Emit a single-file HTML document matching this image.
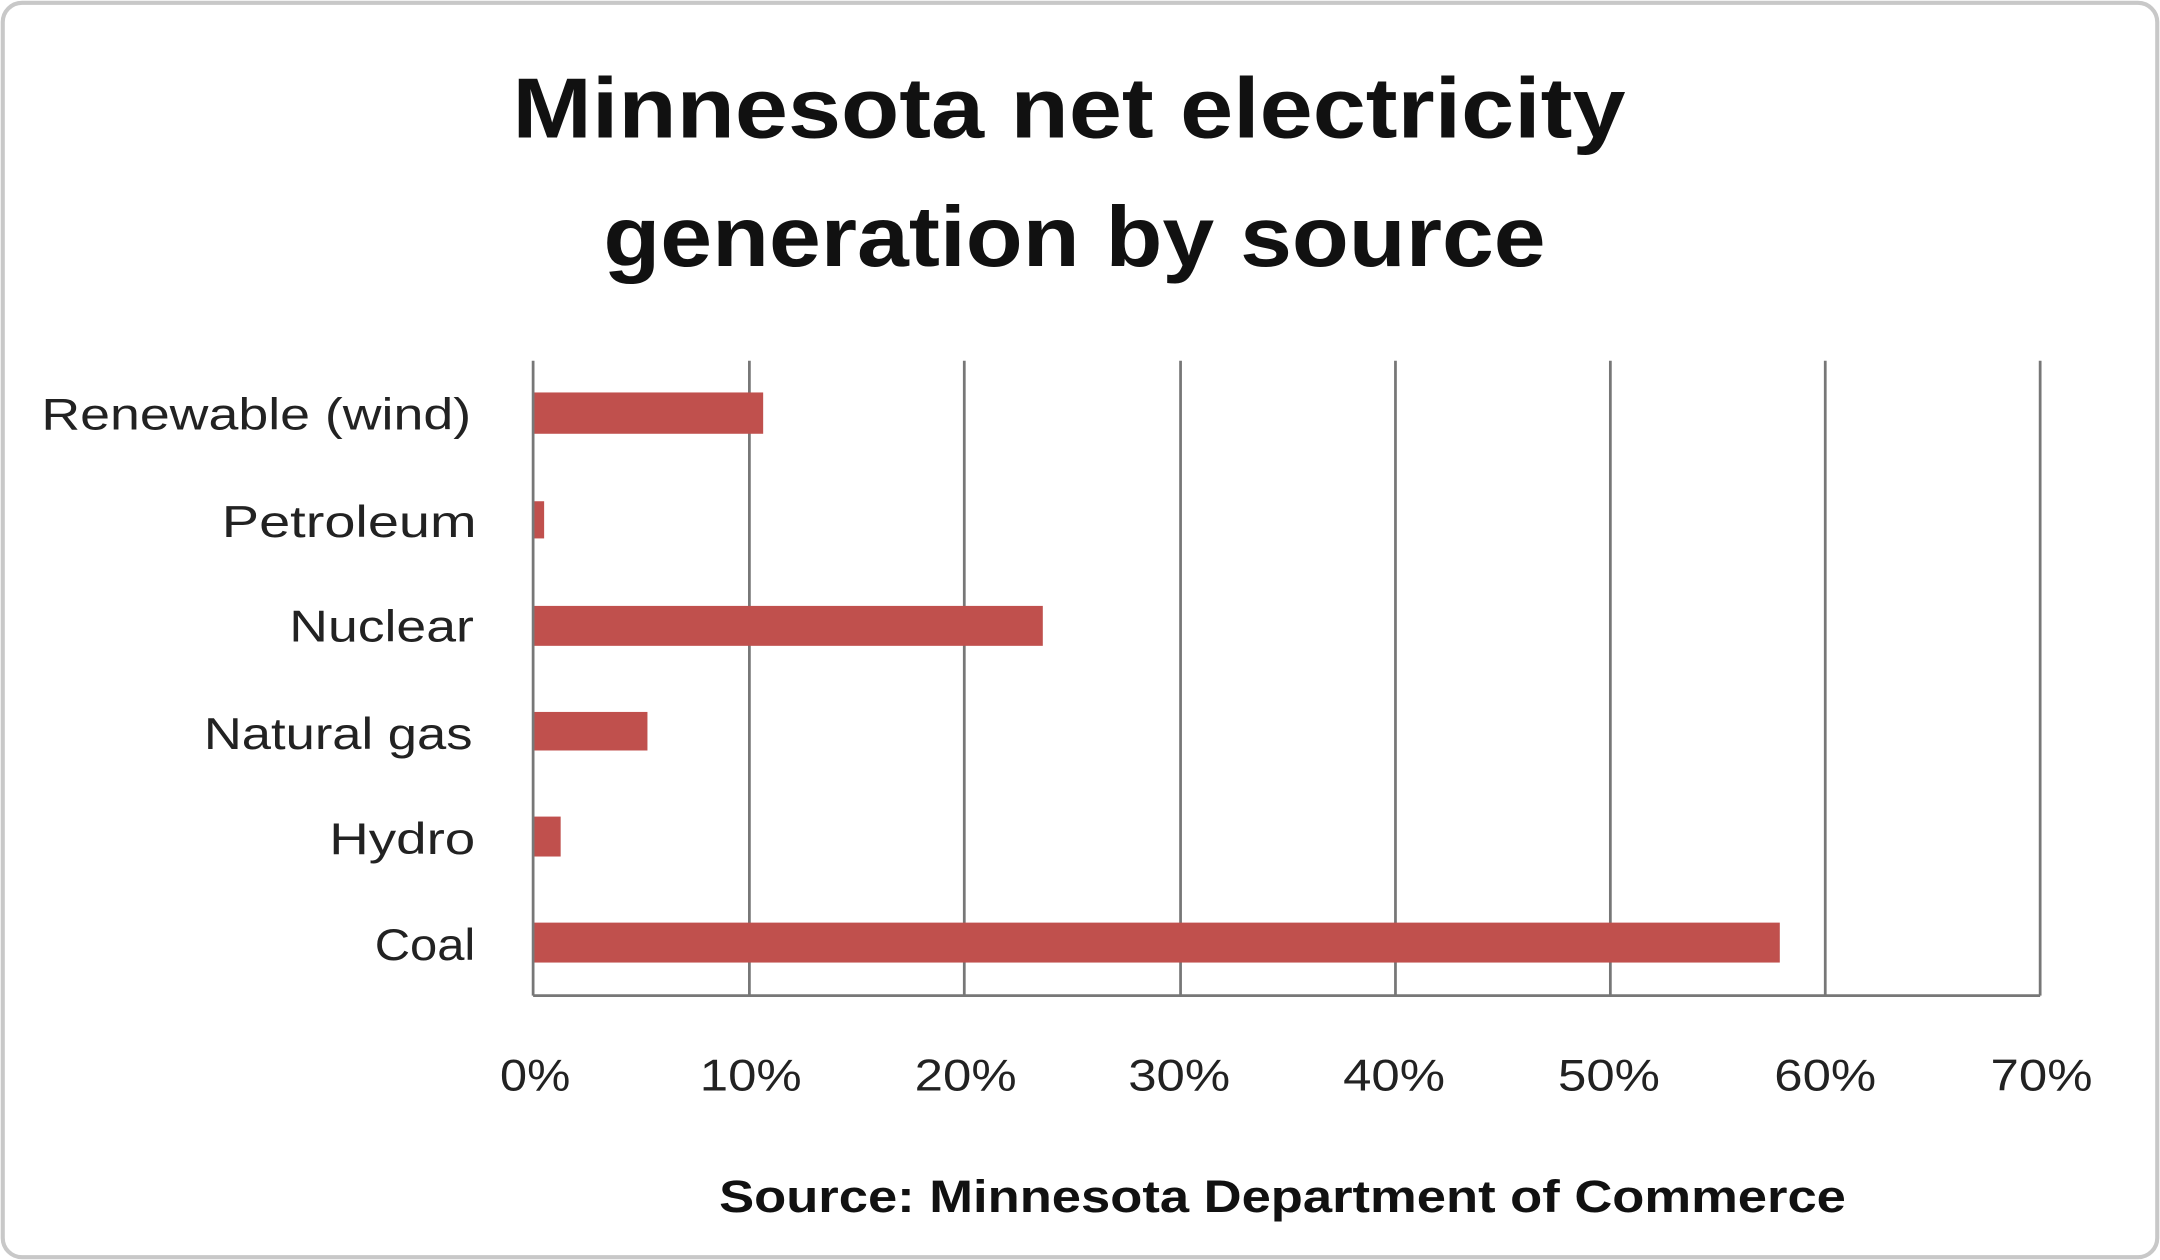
<!DOCTYPE html>
<html><head><meta charset="utf-8"><style>
html,body{margin:0;padding:0;background:#fff;}
svg{display:block;}
</style></head><body>
<svg width="2160" height="1260" viewBox="0 0 1568 915" preserveAspectRatio="none" xmlns="http://www.w3.org/2000/svg" font-family="Liberation Sans, sans-serif">
<rect x="0" y="0" width="1568" height="915" fill="#fff"/>
<rect x="2" y="2" width="1564" height="911" rx="14" fill="none" stroke="#c8c8c8" stroke-width="3"/>
<text x="776" y="100" text-anchor="middle" font-size="62" font-weight="bold" fill="#111" textLength="808" lengthAdjust="spacingAndGlyphs">Minnesota net electricity</text>
<text x="780" y="193" text-anchor="middle" font-size="62" font-weight="bold" fill="#111" textLength="684" lengthAdjust="spacingAndGlyphs">generation by source</text>
<g stroke="#777" stroke-width="2">
<line x1="544" y1="262" x2="544" y2="723"/>
<line x1="700" y1="262" x2="700" y2="723"/>
<line x1="857" y1="262" x2="857" y2="723"/>
<line x1="1013" y1="262" x2="1013" y2="723"/>
<line x1="1169" y1="262" x2="1169" y2="723"/>
<line x1="1325" y1="262" x2="1325" y2="723"/>
<line x1="1481" y1="262" x2="1481" y2="723"/>
<line x1="387" y1="262" x2="387" y2="723"/>
<line x1="387" y1="723" x2="1481" y2="723"/>
</g>
<g fill="#c0504d">
<rect x="388" y="285" width="166" height="30"/>
<rect x="388" y="364" width="7" height="27"/>
<rect x="388" y="440" width="369" height="29"/>
<rect x="388" y="517" width="82" height="28"/>
<rect x="388" y="593" width="19" height="29"/>
<rect x="388" y="670" width="904" height="29"/>
</g>
<g font-size="32" fill="#222" lengthAdjust="spacingAndGlyphs">
<text x="30" y="312" textLength="312" lengthAdjust="spacingAndGlyphs">Renewable (wind)</text>
<text x="161" y="390" textLength="185" lengthAdjust="spacingAndGlyphs">Petroleum</text>
<text x="210" y="466" textLength="134" lengthAdjust="spacingAndGlyphs">Nuclear</text>
<text x="148" y="544" textLength="195" lengthAdjust="spacingAndGlyphs">Natural gas</text>
<text x="239" y="620" textLength="106" lengthAdjust="spacingAndGlyphs">Hydro</text>
<text x="272" y="697" textLength="73" lengthAdjust="spacingAndGlyphs">Coal</text>
</g>
<g font-size="32" fill="#222">
<text x="363" y="792" textLength="51" lengthAdjust="spacingAndGlyphs">0%</text>
<text x="508" y="792" textLength="74" lengthAdjust="spacingAndGlyphs">10%</text>
<text x="664" y="792" textLength="74" lengthAdjust="spacingAndGlyphs">20%</text>
<text x="819" y="792" textLength="74" lengthAdjust="spacingAndGlyphs">30%</text>
<text x="975" y="792" textLength="74" lengthAdjust="spacingAndGlyphs">40%</text>
<text x="1131" y="792" textLength="74" lengthAdjust="spacingAndGlyphs">50%</text>
<text x="1288" y="792" textLength="74" lengthAdjust="spacingAndGlyphs">60%</text>
<text x="1445" y="792" textLength="74" lengthAdjust="spacingAndGlyphs">70%</text>
</g>
<text x="931" y="880" text-anchor="middle" font-size="33" font-weight="bold" fill="#111" textLength="818" lengthAdjust="spacingAndGlyphs">Source: Minnesota Department of Commerce</text>
</svg>
</body></html>
